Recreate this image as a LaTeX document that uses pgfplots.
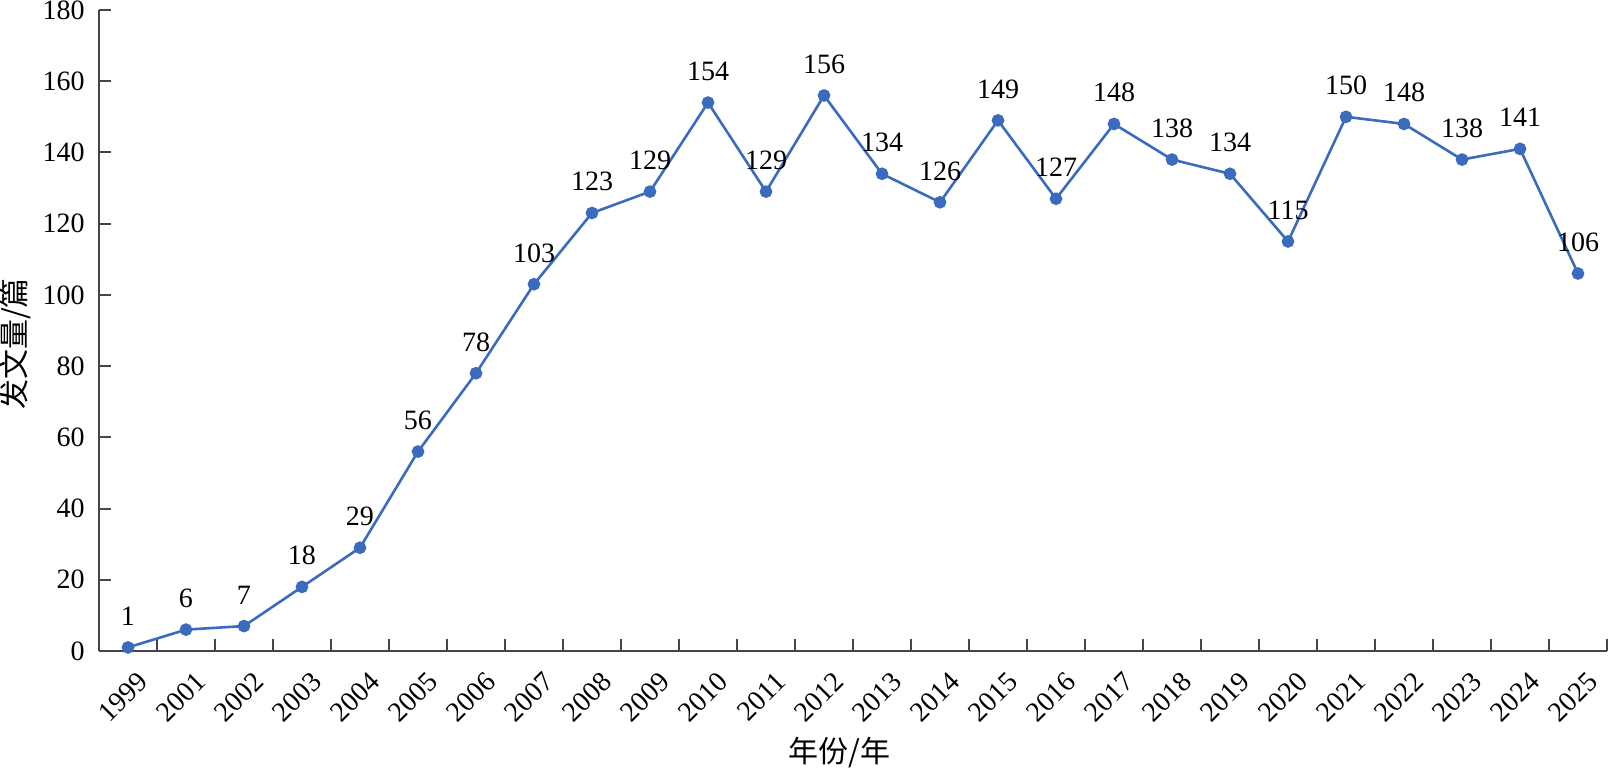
\documentclass[border=0pt]{standalone}
\usepackage{fontspec}
\setmainfont{Liberation Serif}
\newfontfamily\cjk{Noto Sans CJK SC}
\usepackage{pgfplots}
\pgfplotsset{compat=1.18}
\definecolor{lineblue}{HTML}{3B6BBF}
\definecolor{axisgray}{HTML}{454545}
\begin{document}
\begin{tikzpicture}
\begin{axis}[
  scale only axis,
  width=754pt, height=320.5pt,
  xmin=-0.5, xmax=25.5,
  ymin=0, ymax=180,
  ytick={0,20,...,180},
  xtick={-0.5,0.5,...,25.5},
  xticklabels={},
  extra x ticks={0,1,...,25},
  extra x tick labels={1999,2001,2002,2003,2004,2005,2006,2007,2008,2009,2010,2011,2012,2013,2014,2015,2016,2017,2018,2019,2020,2021,2022,2023,2024,2025},
  extra x tick style={major tick length=0pt},
  axis lines*=left,
  tick align=inside,
  major tick length=6pt,
  axis line style={draw=axisgray, line width=1pt},
  tick style={draw=axisgray, line width=1pt},
  /pgf/number format/assume math mode=true,
  yticklabel style={font=\fontsize{14}{16}\selectfont, anchor=east, inner sep=0pt, xshift=-7pt},
  xticklabel style={font=\fontsize{14}{16}\selectfont, inner sep=0pt, xshift=4pt, yshift=-9.5pt, rotate=45, anchor=north east},
  xlabel={\cjk 年份/年},
  ylabel={\cjk 发文量/篇},
  xlabel style={font=\fontsize{15}{17}\selectfont, at={(axis description cs:0.491,-0.158)}, anchor=center},
  ylabel style={font=\fontsize{15}{17}\selectfont, at={(axis description cs:-0.0557,0.479)}, anchor=center},
  clip=false,
  nodes near coords,
  nodes near coords style={font=\fontsize{14}{16}\selectfont, anchor=base, inner sep=0pt, yshift=11pt, text=black},
]
\addplot[color=lineblue, line width=1.3pt, mark=*, mark size=2.5pt, mark options={fill=lineblue, draw=lineblue}] coordinates {
(0,1) (1,6) (2,7) (3,18) (4,29) (5,56) (6,78) (7,103) (8,123) (9,129)
(10,154) (11,129) (12,156) (13,134) (14,126) (15,149) (16,127) (17,148)
(18,138) (19,134) (20,115) (21,150) (22,148) (23,138) (24,141) (25,106)
};
\coordinate (bl) at (rel axis cs:-0.06565,-0.19345);
\coordinate (tr) at (rel axis cs:1.00199,1.0156);
\end{axis}
\pgfresetboundingbox
\path[use as bounding box] (bl) rectangle (tr);
\end{tikzpicture}
\end{document}
